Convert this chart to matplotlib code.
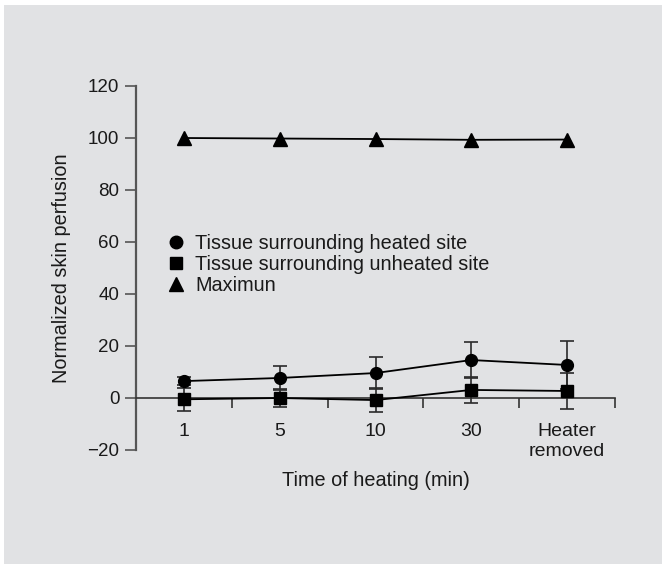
import matplotlib
matplotlib.use("Agg")
import matplotlib.pyplot as plt
from matplotlib.lines import Line2D
from matplotlib.patches import Rectangle
import numpy as np

categories = ["1", "5", "10", "30", "Heater\nremoved"]
heated = [6.5, 7.7, 9.6, 14.6, 12.7]
heated_err = [1.5, 4.6, 6.2, 6.9, 9.2]
unheated = [-0.5, 0.0, -0.8, 3.1, 2.7]
unheated_err = [4.5, 3.6, 4.6, 5.0, 7.0]
maximum = [100.0, 99.8, 99.6, 99.3, 99.4]
legend_labels = ["Tissue surrounding heated site", "Tissue surrounding unheated site", "Maximun"]

plt.rcParams['font.family'] = ['Liberation Sans', 'DejaVu Sans']

W, H = 662, 564
fig = plt.figure(figsize=(W / 100, H / 100), dpi=100)
fig.patch.set_facecolor('white')
fig.patches.append(Rectangle((4 / W, 0), 1 - 4 / W, 1 - 5 / H, transform=fig.transFigure,
                             facecolor='#e1e2e4', edgecolor='none', zorder=-10))

ax = fig.add_axes([136 / W, (H - 450) / H, (615 - 136) / W, (450 - 86) / H])
ax.set_facecolor('none')

x = np.arange(len(categories))
ecol = '#2a2a2a'
ax.errorbar(x, heated, yerr=heated_err, color='black', ecolor=ecol, elinewidth=1.2,
            capsize=4.7, capthick=1.2, marker='o', markersize=8.5, linewidth=1.3, zorder=3)
ax.errorbar(x, unheated, yerr=unheated_err, color='black', ecolor=ecol, elinewidth=1.2,
            capsize=4.7, capthick=1.2, marker='s', markersize=8, linewidth=1.3, zorder=3)
ax.plot(x, maximum, color='black', marker='^', markersize=10, linewidth=1.3, zorder=3)

ax.set_xlim(-0.5, 4.5)
ax.set_ylim(-20, 120)
ax.set_yticks(np.arange(-20, 121, 20))
ax.set_yticklabels(['\u221220' if v < 0 else str(v) for v in range(-20, 121, 20)])
ax.set_xticks(x)
ax.set_xticklabels(categories, va='top', linespacing=1.1)
ax.set_xticks(np.arange(0.5, 4.6, 1.0), minor=True)

for s in ['top', 'right']:
    ax.spines[s].set_visible(False)
ax.spines['bottom'].set_position(('data', 0))
ax.spines['bottom'].set_color('#333333')
ax.spines['bottom'].set_linewidth(1.2)
ax.spines['left'].set_color('#555555')
ax.spines['left'].set_linewidth(1.6)

ax.tick_params(axis='x', which='major', length=0, pad=18, labelsize=14, colors='#1a1a1a')
ax.tick_params(axis='x', which='minor', length=7, width=1.2, direction='out', color='#333333')
ax.tick_params(axis='y', length=8, width=1.2, direction='out', color='#555555',
               labelsize=13.5, labelcolor='#1a1a1a', pad=4)

ax.set_ylabel("Normalized skin perfusion", fontsize=14.3, color='#1a1a1a', labelpad=10)
ax.yaxis.set_label_coords((71 - 136) / 479, 0.5)
ax.set_xlabel("Time of heating (min)", fontsize=14.3, color='#1a1a1a', labelpad=0)
ax.xaxis.set_label_coords(0.5, (450 - 481) / 364)
ax.xaxis.label.set_va('center')

handles = [Line2D([], [], color='black', marker='o', linestyle='none', markersize=9),
           Line2D([], [], color='black', marker='s', linestyle='none', markersize=8),
           Line2D([], [], color='black', marker='^', linestyle='none', markersize=10)]
leg = ax.legend(handles, legend_labels, loc='upper left', bbox_to_anchor=(0.062, 0.594),
                frameon=False, borderaxespad=0, borderpad=0, handlelength=1.0,
                handletextpad=0.5, labelspacing=0.1, fontsize=14.3)
for t in leg.get_texts():
    t.set_color('#1a1a1a')

fig.savefig("out.png", dpi=100)
